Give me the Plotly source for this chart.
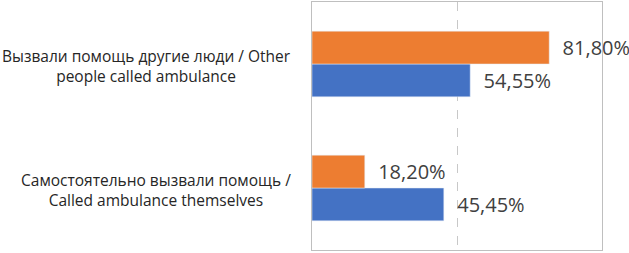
import plotly.graph_objects as go

categories = ["Самостоятельно вызвали помощь /<br>Called ambulance themselves",
              "Вызвали помощь другие люди / Other<br>people called ambulance"]
series_blue = [45.45, 54.55]
series_orange = [18.20, 81.80]

fig = go.Figure()
fig.add_trace(go.Bar(y=categories, x=series_blue, orientation="h",
                     marker_color="#4472C4", name="blue",
                     texttemplate="  %{x:.2f}%", textposition="outside",
                     cliponaxis=False))
fig.add_trace(go.Bar(y=categories, x=series_orange, orientation="h",
                     marker_color="#ED7D31", name="orange",
                     texttemplate="  %{x:.2f}%", textposition="outside",
                     cliponaxis=False))
fig.update_traces(textfont=dict(family="Open Sans", size=20, color="#404040"),
                  constraintext="none", hoverinfo="skip")

for c in categories:
    fig.add_annotation(x=0, xref="paper", y=c, yref="y", xanchor="right",
                       xshift=-19, yshift=-2, text=c, showarrow=False, align="center",
                       font=dict(family="Open Sans", size=15.5, color="#262626"))

fig.update_layout(
    width=629, height=253, barmode="group", bargap=0.47, bargroupgap=0,
    separators=", ", showlegend=False,
    margin=dict(l=312, r=27, t=2, b=3),
    paper_bgcolor="white", plot_bgcolor="white",
    xaxis=dict(range=[0, 100], dtick=50, showticklabels=False, showgrid=True,
               gridcolor="#C8C8C8", griddash="dash", zeroline=False,
               showline=True, mirror=True, linecolor="#BFBFBF", linewidth=1),
    yaxis=dict(showticklabels=False, showline=True, mirror=True,
               linecolor="#BFBFBF", linewidth=1, ticks=""),
)
fig.write_html("out.html", config={"displayModeBar": False},
               post_script="document.body.style.margin='0';document.body.style.overflow='hidden';")
